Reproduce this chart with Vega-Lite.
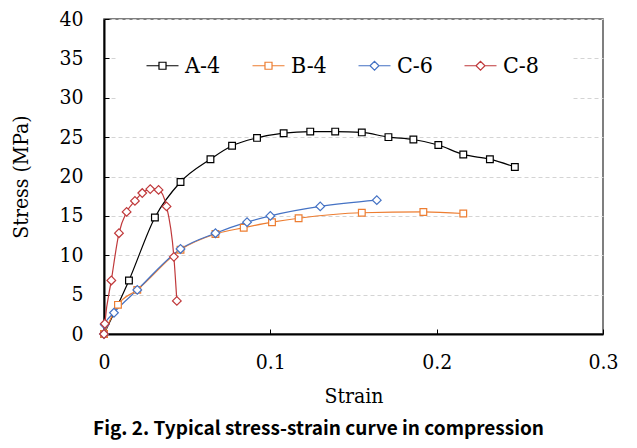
{
  "$schema": "https://vega.github.io/schema/vega-lite/v6.json",
  "width": 499,
  "height": 315,
  "autosize": {"type": "none"},
  "padding": {"left": 104, "top": 19, "right": 34, "bottom": 114},
  "background": "white",
  "config": {
    "view": {"stroke": "#555555", "strokeWidth": 1.5},
    "font": "DejaVu Serif Condensed"
  },
  "title": {
    "text": "Fig. 2. Typical stress-strain curve in compression",
    "orient": "bottom",
    "anchor": "middle",
    "frame": "group",
    "font": "Noto Sans CJK KR",
    "fontWeight": "bold",
    "fontSize": 19,
    "color": "#000000",
    "offset": 14,
    "dx": -35
  },
  "data": {
    "values": [
      {"series": "A-4", "i": 0, "strain": 0.0, "stress": 0.0},
      {"series": "A-4", "i": 1, "strain": 0.015, "stress": 6.8},
      {"series": "A-4", "i": 2, "strain": 0.0306, "stress": 14.8},
      {"series": "A-4", "i": 3, "strain": 0.046, "stress": 19.3},
      {"series": "A-4", "i": 4, "strain": 0.064, "stress": 22.2},
      {"series": "A-4", "i": 5, "strain": 0.077, "stress": 23.9},
      {"series": "A-4", "i": 6, "strain": 0.092, "stress": 24.9},
      {"series": "A-4", "i": 7, "strain": 0.108, "stress": 25.5},
      {"series": "A-4", "i": 8, "strain": 0.124, "stress": 25.7},
      {"series": "A-4", "i": 9, "strain": 0.139, "stress": 25.7},
      {"series": "A-4", "i": 10, "strain": 0.155, "stress": 25.6},
      {"series": "A-4", "i": 11, "strain": 0.171, "stress": 25.0},
      {"series": "A-4", "i": 12, "strain": 0.186, "stress": 24.7},
      {"series": "A-4", "i": 13, "strain": 0.201, "stress": 24.0},
      {"series": "A-4", "i": 14, "strain": 0.216, "stress": 22.8},
      {"series": "A-4", "i": 15, "strain": 0.232, "stress": 22.2},
      {"series": "A-4", "i": 16, "strain": 0.247, "stress": 21.2},
      {"series": "B-4", "i": 0, "strain": 0.0, "stress": 0.0},
      {"series": "B-4", "i": 1, "strain": 0.0084, "stress": 3.7},
      {"series": "B-4", "i": 2, "strain": 0.02, "stress": 5.6},
      {"series": "B-4", "i": 3, "strain": 0.046, "stress": 10.7},
      {"series": "B-4", "i": 4, "strain": 0.067, "stress": 12.7},
      {"series": "B-4", "i": 5, "strain": 0.084, "stress": 13.5},
      {"series": "B-4", "i": 6, "strain": 0.101, "stress": 14.2},
      {"series": "B-4", "i": 7, "strain": 0.117, "stress": 14.7},
      {"series": "B-4", "i": 8, "strain": 0.155, "stress": 15.4},
      {"series": "B-4", "i": 9, "strain": 0.192, "stress": 15.5},
      {"series": "B-4", "i": 10, "strain": 0.216, "stress": 15.3},
      {"series": "C-6", "i": 0, "strain": 0.0, "stress": 0.0},
      {"series": "C-6", "i": 1, "strain": 0.0004, "stress": 1.2},
      {"series": "C-6", "i": 2, "strain": 0.006, "stress": 2.7},
      {"series": "C-6", "i": 3, "strain": 0.02, "stress": 5.6},
      {"series": "C-6", "i": 4, "strain": 0.046, "stress": 10.8},
      {"series": "C-6", "i": 5, "strain": 0.067, "stress": 12.8},
      {"series": "C-6", "i": 6, "strain": 0.086, "stress": 14.2},
      {"series": "C-6", "i": 7, "strain": 0.1, "stress": 15.0},
      {"series": "C-6", "i": 8, "strain": 0.13, "stress": 16.2},
      {"series": "C-6", "i": 9, "strain": 0.164, "stress": 17.0},
      {"series": "C-8", "i": 0, "strain": 0.0, "stress": 0.0},
      {"series": "C-8", "i": 1, "strain": 0.0005, "stress": 1.3},
      {"series": "C-8", "i": 2, "strain": 0.0044, "stress": 6.8},
      {"series": "C-8", "i": 3, "strain": 0.009, "stress": 12.8},
      {"series": "C-8", "i": 4, "strain": 0.0136, "stress": 15.5},
      {"series": "C-8", "i": 5, "strain": 0.0186, "stress": 16.9},
      {"series": "C-8", "i": 6, "strain": 0.023, "stress": 17.9},
      {"series": "C-8", "i": 7, "strain": 0.0278, "stress": 18.4},
      {"series": "C-8", "i": 8, "strain": 0.0328, "stress": 18.3},
      {"series": "C-8", "i": 9, "strain": 0.0376, "stress": 16.2},
      {"series": "C-8", "i": 10, "strain": 0.042, "stress": 9.8},
      {"series": "C-8", "i": 11, "strain": 0.0438, "stress": 4.2}
    ]
  },
  "encoding": {
    "x": {
      "field": "strain",
      "type": "quantitative",
      "scale": {"domain": [0, 0.3], "nice": false, "zero": false},
      "axis": {
        "title": "Strain",
        "values": [0, 0.1, 0.2, 0.3],
        "format": "~g",
        "grid": false,
        "domainColor": "#000000",
        "domainWidth": 2,
        "tickColor": "#000000",
        "tickWidth": 1,
        "tickSize": -5,
        "labelPadding": 22,
        "labelFont": "DejaVu Serif Condensed",
        "labelFontSize": 21,
        "labelColor": "#000000",
        "labelFlush": false,
        "titleFont": "DejaVu Serif Condensed",
        "titleFontSize": 21,
        "titleFontWeight": "normal",
        "titleColor": "#000000",
        "titlePadding": 13
      }
    },
    "y": {
      "field": "stress",
      "type": "quantitative",
      "scale": {"domain": [0, 40], "nice": false},
      "axis": {
        "title": "Stress (MPa)",
        "values": [0, 5, 10, 15, 20, 25, 30, 35, 40],
        "grid": true,
        "gridColor": "#d4d4d4",
        "gridDash": [4, 3],
        "gridWidth": 1,
        "domainColor": "#000000",
        "domainWidth": 2,
        "tickColor": "#000000",
        "tickWidth": 1,
        "tickSize": -5,
        "labelPadding": 26,
        "labelFont": "DejaVu Serif Condensed",
        "labelFontSize": 21,
        "labelColor": "#000000",
        "labelFlush": false,
        "titleFont": "DejaVu Serif Condensed",
        "titleFontSize": 21,
        "titleFontWeight": "normal",
        "titleColor": "#000000",
        "titlePadding": 27
      }
    },
    "color": {
      "field": "series",
      "type": "nominal",
      "scale": {
        "domain": ["A-4", "B-4", "C-6", "C-8"],
        "range": ["#000000", "#ED7D31", "#4472C4", "#C0393B"]
      },
      "legend": {
        "title": null,
        "orient": "none",
        "direction": "horizontal",
        "legendX": 13,
        "legendY": 1,
        "padding": 34,
        "fillColor": "white",
        "strokeColor": null,
        "symbolSize": 256,
        "symbolStrokeWidth": 1.2,
        "labelFont": "DejaVu Serif Condensed",
        "labelFontSize": 23,
        "labelColor": "#000000",
        "labelOffset": 11,
        "columnPadding": 29,
        "encode": {
          "symbols": {
            "update": {
              "shape": {"signal": "(datum.value === 'A-4' || datum.value === 'B-4') ? 'M-2,0H-0.44M0.44,0H2M-0.44,-0.44H0.44V0.44H-0.44Z' : 'M-2,0H-0.56M0.56,0H2M-0.56,0L0,-0.56L0.56,0L0,0.56Z'"},
              "size": {"value": 256},
              "fill": {"value": "white"},
              "opacity": {"value": 1}
            }
          }
        }
      }
    }
  },
  "layer": [
    {
      "mark": {"type": "line", "interpolate": "monotone", "strokeWidth": 1.2},
      "encoding": {
        "order": {"field": "i", "type": "quantitative"}
      }
    },
    {
      "transform": [{"filter": "datum.series === 'A-4' || datum.series === 'B-4'"}],
      "mark": {"type": "point", "shape": "square", "size": 45, "filled": false, "fill": "white", "fillOpacity": 1, "opacity": 1, "strokeWidth": 1.2}
    },
    {
      "transform": [{"filter": "datum.series === 'C-6' || datum.series === 'C-8'"}],
      "mark": {"type": "point", "shape": "diamond", "size": 75, "filled": false, "fill": "white", "fillOpacity": 1, "opacity": 1, "strokeWidth": 1.2}
    }
  ]
}
